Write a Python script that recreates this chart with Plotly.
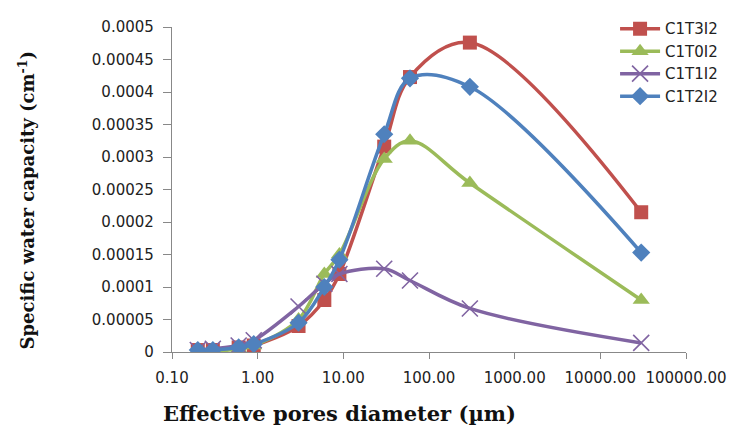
import plotly.graph_objects as go

diam = [0.2, 0.3, 0.6, 0.9, 3, 6, 9, 30, 60, 300, 30000]
c1t3i2 = [0.000003, 0.000003, 0.000007, 0.00001, 0.00004, 0.00008, 0.00012, 0.000316, 0.000423, 0.000476, 0.000215]
c1t0i2 = [0.000001, 0.000001, 0.000005, 0.00001, 0.00005, 0.00012, 0.00015, 0.000297, 0.000325, 0.00026, 0.00008]
c1t1i2 = [0.000003, 0.000005, 0.00001, 0.000018, 0.00007, 0.000105, 0.00012, 0.000128, 0.00011, 0.000067, 0.000014]
c1t2i2 = [0.000003, 0.000003, 0.000007, 0.000012, 0.000045, 0.0001, 0.000142, 0.000335, 0.000421, 0.000408, 0.000153]

x_tickvals = [0.1, 1, 10, 100, 1000, 10000, 100000]
x_ticktext = ["0.10", "1.00", "10.00", "100.00", "1000.00", "10000.00", "100000.00"]
y_tickvals = [0, 0.00005, 0.0001, 0.00015, 0.0002, 0.00025, 0.0003, 0.00035, 0.0004, 0.00045, 0.0005]
y_ticktext = ["0", "0.00005", "0.0001", "0.00015", "0.0002", "0.00025", "0.0003", "0.00035", "0.0004", "0.00045", "0.0005"]

x_title = "Effective pores diameter (µm)"
y_title = "Specific water capacity (cm<sup>-1</sup>)"

series = [
    ("C1T3I2", c1t3i2, "#C0504D", dict(symbol="square", size=14)),
    ("C1T0I2", c1t0i2, "#9BBB59", dict(symbol="triangle-up", size=15)),
    ("C1T1I2", c1t1i2, "#8064A2", dict(symbol="x-thin-open", size=16, line=dict(width=1.6, color="#8064A2"))),
    ("C1T2I2", c1t2i2, "#4F81BD", dict(symbol="diamond", size=14)),
]

fig = go.Figure()
for name, vals, col, mk in series:
    m = dict(color=col)
    m.update(mk)
    fig.add_trace(go.Scatter(
        x=diam, y=vals, name=name, mode="lines+markers",
        line=dict(color=col, width=3.5, shape="spline", smoothing=1.0),
        marker=m,
    ))

fig.update_layout(
    width=739, height=434,
    margin=dict(l=172, r=47, t=21, b=82),
    paper_bgcolor="white", plot_bgcolor="white",
    font=dict(family="DejaVu Sans", size=15, color="#222"),
    legend=dict(x=0.862, y=1.045, xanchor="left", yanchor="top",
                font=dict(family="DejaVu Sans", size=15, color="#222"),
                bgcolor="rgba(0,0,0,0)", tracegroupgap=0, itemwidth=40),
    showlegend=True,
    annotations=[
        dict(text=x_title, xref="paper", yref="paper", x=(341 - 172) / 520, y=-(415 - 352) / 331,
             xanchor="center", yanchor="middle", showarrow=False,
             font=dict(family="DejaVu Serif", size=21, color="#111", weight="bold")),
        dict(text=y_title, xref="paper", yref="paper", x=-(172 - 25) / 520, y=(352 - 197) / 331,
             xanchor="center", yanchor="middle", showarrow=False, textangle=-90,
             font=dict(family="DejaVu Serif", size=18, color="#111", weight="bold")),
    ],
)
fig.update_xaxes(
    type="log", range=[-1, 5],
    tickvals=x_tickvals, ticktext=x_ticktext,
    showline=True, linecolor="#888", linewidth=1.3,
    ticks="outside", ticklen=6, tickcolor="#888", tickwidth=1.3,
    showgrid=False, zeroline=False,
    tickfont=dict(family="DejaVu Sans", size=15, color="#222"),
    ticklabelstandoff=6,
)
fig.update_yaxes(
    range=[0, 0.0005],
    tickvals=y_tickvals, ticktext=y_ticktext,
    showline=True, linecolor="#888", linewidth=1.3,
    ticks="outside", ticklen=8, tickcolor="#888", tickwidth=1.3,
    showgrid=False, zeroline=False,
    tickfont=dict(family="DejaVu Sans", size=15, color="#222"),
    ticklabelstandoff=6,
)

fig.write_html("out.html")
